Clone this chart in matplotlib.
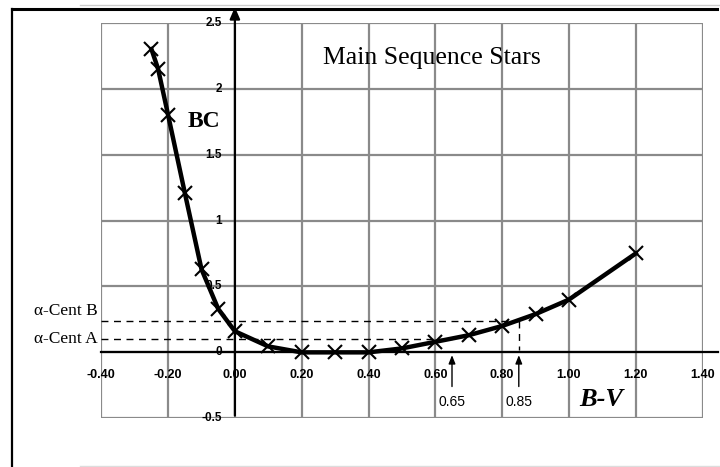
import matplotlib
matplotlib.use("Agg")
import matplotlib.pyplot as plt
from matplotlib.lines import Line2D

# Data
bv = [-0.25, -0.23, -0.20, -0.15, -0.10, -0.05, 0.00, 0.10, 0.20, 0.30, 0.40,
      0.50, 0.60, 0.70, 0.80, 0.90, 1.00, 1.20]
bc = [2.30, 2.15, 1.80, 1.21, 0.63, 0.33, 0.16, 0.045, 0.00, 0.00, 0.00,
      0.03, 0.08, 0.13, 0.20, 0.29, 0.40, 0.75]
xticks = [-0.4, -0.2, 0.0, 0.2, 0.4, 0.6, 0.8, 1.0, 1.2, 1.4]
xticklabels = ["-0.40", "-0.20", "0.00", "0.20", "0.40", "0.60", "0.80", "1.00", "1.20", "1.40"]
yticks = [-0.5, 0, 0.5, 1, 1.5, 2, 2.5]
yticklabels = ["-0.5", "0", "0.5", "1", "1.5", "2", "2.5"]
cent_names = ["\u03b1-Cent B", "\u03b1-Cent A"]
cent_bc = [0.24, 0.10]
cent_bv = [0.85, 0.65]

W, H = 720, 467
fig = plt.figure(figsize=(7.2, 4.67), dpi=100)
ax = fig.add_axes([101.3 / W, 1 - 418.3 / H, (702.5 - 101.3) / W, (418.3 - 22.7) / H])
ax.set_xlim(-0.4, 1.4)
ax.set_ylim(-0.5, 2.5)
for s in ax.spines.values():
    s.set_visible(False)
ax.set_xticks([])
ax.set_yticks([])

grid_c = "#8a8a8a"
for x in xticks:
    ax.axvline(x, color=grid_c, lw=1.6, zorder=1)
for y in yticks:
    ax.axhline(y, color=grid_c, lw=1.6, zorder=1)

# main axes lines
ax.plot([-0.4, 1.445], [0, 0], color="black", lw=1.6, clip_on=False, zorder=3)
ax.annotate("", xy=(0, 2.64), xytext=(0, -0.5), xycoords="data",
            arrowprops=dict(arrowstyle="-|>,head_width=0.3,head_length=0.7",
                            color="black", lw=1.6), annotation_clip=False, zorder=3)

# tick labels
sans_b = dict(family=["Liberation Sans", "DejaVu Sans"], fontweight="bold")
for x, lab in zip(xticks, xticklabels):
    ax.text(x, -0.17, lab, ha="center", va="center", fontsize=9, **sans_b, zorder=4)
for y, lab in zip(yticks, yticklabels):
    ax.text(-0.039, y, lab, ha="right", va="center", fontsize=8.5, **sans_b, zorder=4)

# dashed reference lines
label_off = [0.07, 0.0]
for name, yv, xv, off in zip(cent_names, cent_bc, cent_bv, label_off):
    ax.plot([-0.4, xv], [yv, yv], color="black", lw=1.0, ls=(0, (5, 4)), zorder=2)
    ax.text(-0.411, yv + off, name, ha="right", va="center",
            family=["Liberation Serif", "DejaVu Serif"], fontsize=12.5, clip_on=False)
ax.plot([cent_bv[0], cent_bv[0]], [cent_bc[0], 0.02], color="black", lw=1.0,
        ls=(0, (5, 4)), zorder=2)

# arrows with labels
for xv in cent_bv:
    ax.annotate("", xy=(xv, 0.0), xytext=(xv, -0.28),
                arrowprops=dict(arrowstyle="-|>,head_width=0.2,head_length=0.5",
                                color="black", lw=1.0), zorder=4)
    ax.text(xv, -0.377, f"{xv:.2f}", ha="center", va="center",
            family=["Liberation Sans", "DejaVu Sans"], fontsize=10, zorder=4)

# curve
ax.plot(bv, bc, color="black", lw=3.2, zorder=5, solid_joinstyle="round")
ax.plot(bv, bc, ls="none", marker="x", ms=10, mew=1.5, color="black", zorder=6)

# labels
ax.text(1.097, -0.36, "B-V", family=["Liberation Serif", "DejaVu Serif"],
        fontweight="bold", style="italic", fontsize=19, ha="center", va="center")
ax.text(-0.141, 1.75, "BC", family=["Liberation Serif", "DejaVu Serif"],
        fontweight="bold", fontsize=17, ha="left", va="center")
ax.text(0.59, 2.23, "Main Sequence Stars", family=["Liberation Serif", "DejaVu Serif"],
        fontsize=18.5, ha="center", va="center")

# outer frame
fig.add_artist(Line2D([12 / W, 717 / W], [1 - 9 / H, 1 - 9 / H], color="black", lw=2.2))
fig.add_artist(Line2D([12 / W, 12 / W], [1 - 9 / H, 0], color="black", lw=1.6))
fig.add_artist(Line2D([80 / W, 720 / W], [1 - 4.5 / H, 1 - 4.5 / H], color="#cccccc", lw=1.0))
fig.add_artist(Line2D([80 / W, 720 / W], [1 - 466 / H, 1 - 466 / H], color="#dddddd", lw=1.0))

fig.savefig("out.png", dpi=100)
